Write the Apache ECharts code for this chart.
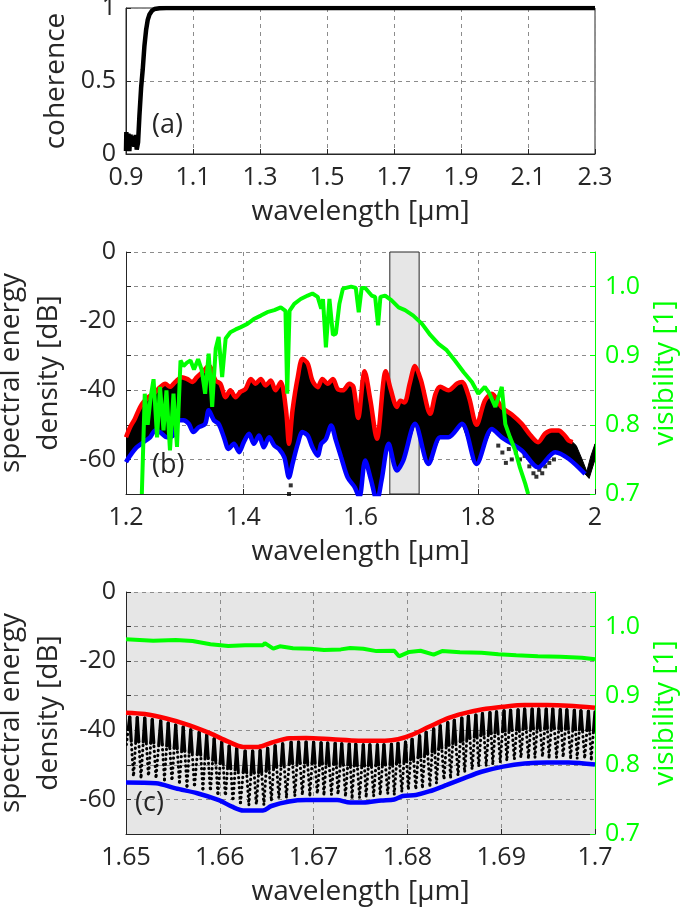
<!DOCTYPE html>
<html><head><meta charset="utf-8">
<script src="https://cdn.jsdelivr.net/npm/echarts@6/dist/echarts.min.js"></script>
<style>html,body{margin:0;padding:0;background:#fff}#c{width:685px;height:912px}</style>
</head><body><div id="c"></div>
<script>
// ---------- panel (a): coherence ----------
const cohX = [0.900,0.901,0.904,0.907,0.910,0.913,0.917,0.921,0.925,0.929,0.932,0.936,0.940,0.945,0.950,0.955,0.960,0.965,0.970,0.977,0.985,1.000,1.020,2.300];
const cohY = [0.02,0.15,0.03,0.14,0.02,0.13,0.10,0.12,0.05,0.13,0.03,0.08,0.26,0.45,0.58,0.74,0.85,0.92,0.955,0.98,0.993,0.998,1.0,1.0];

// ---------- panel (b): spectrum 1.2-2.0 um ----------
const redBX = [1.200,1.207,1.215,1.224,1.230,1.238,1.247,1.255,1.267,1.275,1.284,1.295,1.304,1.313,1.321,1.333,1.341,1.353,1.361,1.370,1.378,1.387,1.395,1.404,1.413,1.421,1.430,1.438,1.447,1.455,1.464,1.473,1.478,1.484,1.493,1.501,1.510,1.518,1.527,1.535,1.544,1.553,1.561,1.570,1.581,1.588,1.596,1.607,1.617,1.628,1.643,1.652,1.662,1.668,1.675,1.684,1.693,1.703,1.719,1.728,1.736,1.750,1.765,1.773,1.785,1.798,1.812,1.824,1.841,1.858,1.875,1.890,1.903,1.915,1.926,1.938,1.948,1.955,1.962];
const redBY = [-53.6,-50.7,-48.3,-44.9,-43.4,-42,-41,-39.6,-38.1,-39,-37.6,-36.2,-36.7,-37.6,-36.2,-34.3,-32.8,-37.2,-38.1,-42,-40,-42,-40.5,-39.6,-36.7,-38.1,-36.7,-38.6,-37.2,-40,-37.6,-45.8,-55.5,-45.8,-36.2,-30.9,-32.3,-37.2,-39.1,-36.7,-38.1,-36.7,-39.6,-40,-38.1,-39,-48,-34.5,-43,-54,-34.5,-40,-44.8,-43,-43.5,-38,-33,-37,-46.8,-41,-39,-40,-38,-37.6,-42,-50,-43,-41,-44.9,-47,-49.7,-53,-55,-52.5,-51.6,-51.6,-53,-54.5,-55];
const blueBX = [1.200,1.207,1.218,1.230,1.241,1.250,1.258,1.270,1.281,1.290,1.298,1.307,1.315,1.324,1.335,1.341,1.350,1.358,1.367,1.375,1.384,1.393,1.401,1.410,1.418,1.427,1.435,1.444,1.453,1.461,1.470,1.478,1.484,1.493,1.501,1.510,1.518,1.527,1.533,1.541,1.550,1.558,1.567,1.578,1.590,1.598,1.608,1.618,1.628,1.636,1.648,1.662,1.673,1.693,1.716,1.736,1.750,1.773,1.798,1.824,1.841,1.875,1.903,1.932,1.955,1.983];
const blueBY = [-60.8,-58.9,-56.5,-55,-53.6,-51.6,-52.1,-53.6,-53,-48.7,-48.7,-49.7,-52.1,-50.7,-49.7,-45.8,-48.7,-49.7,-53.6,-57,-55.5,-57.9,-55,-52.6,-55.5,-53.1,-56.5,-53.6,-56,-57,-59.4,-65.2,-61.3,-55.5,-52.1,-53.1,-56.5,-58.9,-55.5,-54.1,-50.2,-54.5,-59.4,-65.2,-68,-71,-60.3,-66,-72,-66,-55.5,-63.2,-60.3,-49.7,-61.3,-53.6,-53.6,-49.7,-61.3,-51.2,-53.6,-57.4,-62.3,-57.9,-59.8,-64.2];
const bandTailTopX = [1.968,1.978,1.986,1.993,2.000];
const bandTailTopY = [-56,-60,-63.5,-59,-55.5];
const bandTailBotX = [1.990,2.000];
const bandTailBotY = [-65.5,-60];
const dotsBX = [1.478,1.481,1.835,1.842,1.848,1.853,1.858,1.865,1.872,1.880,1.888,1.895,1.900,1.905,1.910,1.915,1.922,1.930];
const dotsBY = [-70,-67.5,-56,-58,-61,-57,-60,-58,-60,-59,-62,-64,-65,-63,-64,-62,-61,-60];
const greenBX = [1.227,1.232,1.237,1.242,1.247,1.253,1.258,1.264,1.269,1.275,1.281,1.287,1.293,1.298,1.304,1.310,1.316,1.323,1.329,1.335,1.341,1.347,1.353,1.358,1.364,1.370,1.378,1.387,1.395,1.407,1.418,1.430,1.441,1.453,1.464,1.472,1.475,1.479,1.487,1.498,1.510,1.518,1.527,1.533,1.536,1.541,1.547,1.553,1.558,1.564,1.570,1.584,1.592,1.597,1.602,1.608,1.619,1.625,1.630,1.634,1.642,1.653,1.665,1.676,1.690,1.705,1.719,1.733,1.747,1.761,1.776,1.790,1.801,1.812,1.820,1.830,1.841,1.847,1.855,1.864,1.872,1.881,1.886];
const greenBY = [0.70,0.845,0.80,0.84,0.866,0.782,0.855,0.792,0.85,0.763,0.845,0.768,0.893,0.885,0.89,0.893,0.88,0.895,0.88,0.845,0.903,0.826,0.91,0.927,0.869,0.925,0.934,0.938,0.941,0.946,0.953,0.958,0.963,0.966,0.970,0.965,0.845,0.965,0.975,0.982,0.987,0.990,0.985,0.968,0.982,0.912,0.982,0.930,0.932,0.975,0.997,1.000,0.998,0.963,0.998,0.998,0.987,0.985,0.944,0.985,0.987,0.980,0.970,0.966,0.958,0.946,0.930,0.917,0.908,0.893,0.876,0.862,0.845,0.855,0.845,0.826,0.855,0.801,0.782,0.763,0.738,0.715,0.70];

// ---------- panel (c): zoom 1.65-1.70 um ----------
const redCX = [1.650,1.652,1.6543,1.6567,1.659,1.6609,1.6625,1.6641,1.6655,1.6674,1.6692,1.672,1.6748,1.6776,1.679,1.6804,1.6823,1.6842,1.686,1.6879,1.6902,1.6925,1.6949,1.6972,1.700];
const redCY = [-34.9,-35.3,-36.6,-38.5,-40.9,-43.3,-44.8,-44.8,-43.6,-42.3,-42.2,-42.6,-43.0,-43.0,-42.6,-41.4,-39,-36.6,-35.1,-34,-33.2,-32.7,-32.7,-32.9,-33.5];
const blueCX = [1.650,1.6532,1.6553,1.6576,1.6599,1.6613,1.6625,1.6646,1.6655,1.6674,1.6692,1.6725,1.6739,1.6753,1.6772,1.6786,1.6795,1.6809,1.6823,1.6842,1.686,1.6879,1.6902,1.6925,1.6949,1.6972,1.700];
const blueCY = [-55.1,-55.3,-56.8,-58.2,-60.2,-62.1,-63.2,-63.2,-61.9,-60.6,-60.2,-60.2,-60.9,-60.9,-60.3,-60,-59,-58.7,-57.7,-55.8,-53.9,-52,-50.5,-49.6,-49.3,-49.3,-49.9];
const greenCX = [1.650,1.6529,1.6553,1.6571,1.659,1.6609,1.6627,1.6646,1.6648,1.6657,1.6664,1.6678,1.6697,1.6711,1.6729,1.6739,1.6753,1.6767,1.6786,1.6791,1.6802,1.6814,1.6828,1.6837,1.6856,1.6879,1.6897,1.6916,1.6939,1.6963,1.6986,1.700];
const greenCY = [0.9817,0.9794,0.9806,0.979,0.9745,0.972,0.973,0.973,0.976,0.968,0.9715,0.9687,0.968,0.966,0.967,0.969,0.968,0.9645,0.965,0.957,0.9633,0.965,0.9595,0.9645,0.963,0.962,0.960,0.9586,0.957,0.9562,0.955,0.9528];
const fringeX = [1.6500,1.6504,1.6508,1.6512,1.6516,1.6520,1.6524,1.6528,1.6532,1.6537,1.6541,1.6545,1.6549,1.6553,1.6557,1.6561,1.6565,1.6569,1.6573,1.6578,1.6582,1.6586,1.6590,1.6594,1.6598,1.6602,1.6606,1.6610,1.6614,1.6618,1.6622,1.6627,1.6631,1.6635,1.6639,1.6643,1.6647,1.6651,1.6655,1.6659,1.6663,1.6667,1.6671,1.6676,1.6680,1.6684,1.6688,1.6692,1.6696,1.6700,1.6704,1.6708,1.6711,1.6715,1.6719,1.6723,1.6726,1.6730,1.6734,1.6738,1.6741,1.6745,1.6749,1.6753,1.6756,1.6760,1.6764,1.6768,1.6771,1.6775,1.6779,1.6783,1.6786,1.6790,1.6794,1.6798,1.6801,1.6805,1.6809,1.6813,1.6816,1.6820,1.6824,1.6828,1.6831,1.6835,1.6839,1.6843,1.6846,1.6850,1.6854,1.6858,1.6861,1.6865,1.6869,1.6873,1.6876,1.6880,1.6884,1.6888,1.6891,1.6895,1.6899,1.6903,1.6906,1.6910,1.6914,1.6918,1.6921,1.6925,1.6929,1.6933,1.6936,1.6940,1.6944,1.6948,1.6951,1.6955,1.6959,1.6963,1.6966,1.6970,1.6974,1.6978,1.6981,1.6985,1.6989,1.6993,1.6996,1.7000];
const fringeY = [-45.0,-36.2,-53.6,-36.3,-53.7,-36.5,-53.7,-36.9,-53.8,-37.3,-54.4,-37.9,-55.0,-38.5,-55.5,-39.1,-56.2,-39.9,-56.5,-40.6,-57.1,-41.5,-57.9,-42.5,-58.6,-43.5,-59.5,-44.6,-60.7,-45.3,-61.4,-46.0,-61.7,-46.0,-61.7,-45.9,-61.6,-45.2,-60.4,-44.5,-59.8,-43.9,-59.3,-43.5,-58.9,-43.4,-58.7,-43.4,-58.7,-43.5,-58.7,-43.6,-58.7,-43.7,-58.7,-43.8,-58.8,-43.9,-59.1,-44.0,-59.4,-44.1,-59.4,-44.2,-59.3,-44.2,-59.1,-44.2,-58.8,-44.2,-58.6,-44.1,-58.5,-43.8,-57.6,-43.4,-57.4,-42.6,-57.2,-41.6,-56.8,-40.6,-56.1,-39.6,-55.5,-38.7,-54.6,-37.8,-53.9,-37.1,-53.3,-36.5,-52.5,-36.0,-51.6,-35.6,-50.8,-35.2,-50.1,-34.9,-49.8,-34.7,-49.2,-34.4,-48.9,-34.2,-48.6,-34.1,-48.3,-33.9,-48.0,-33.9,-47.9,-33.9,-47.8,-33.9,-47.8,-33.9,-47.8,-34.0,-47.8,-34.1,-47.9,-34.2,-48.0,-34.4,-48.2,-34.5,-48.3,-34.7];

const zip = (xs, ys) => xs.map((x, i) => [x, ys[i]]);

const FONT = '"Open Sans", Lato, sans-serif';
const TXT = '#262626';
const GREEN = '#00ff00';
const TICK = 25, TITLE = 28;
const dashed = {show: true, lineStyle: {color: '#8c8c8c', type: [4, 4], width: 1}};

function xAx(gi, min, max, interval, fmt) {
  return {
    type: 'value', gridIndex: gi, min, max, interval,
    name: 'wavelength [µm]', nameLocation: 'middle', nameGap: 44,
    nameTextStyle: {fontFamily: FONT, fontSize: TITLE, color: TXT},
    axisLine: {show: true, onZero: false, lineStyle: {color: '#262626', width: 1}},
    axisTick: {show: true, inside: true, length: 5, lineStyle: {color: '#262626'}},
    axisLabel: {fontFamily: FONT, fontSize: TICK, color: TXT, margin: 11, formatter: fmt},
    splitLine: dashed
  };
}
function dbAx(gi) {
  return {
    type: 'value', gridIndex: gi, min: -70, max: 0, interval: 10,
    name: 'spectral energy\ndensity [dB]', nameLocation: 'middle', nameGap: 50, nameRotate: 90,
    nameTextStyle: {fontFamily: FONT, fontSize: TITLE, color: TXT, lineHeight: 38},
    axisLine: {show: true, onZero: false, lineStyle: {color: '#262626', width: 1}},
    axisTick: {show: true, inside: true, length: 5, lineStyle: {color: '#262626'}},
    axisLabel: {fontFamily: FONT, fontSize: TICK, color: TXT, margin: 10,
      formatter: v => (Math.round(v) % 20 === 0 ? String(Math.round(v)) : '')},
    splitLine: dashed
  };
}
function visAx(gi) {
  return {
    type: 'value', gridIndex: gi, position: 'right', min: 0.7, max: 1.05, interval: 0.1,
    name: 'visibility [1]', nameLocation: 'middle', nameGap: 48, nameRotate: 90,
    nameTextStyle: {fontFamily: FONT, fontSize: TITLE, color: GREEN},
    axisLine: {show: true, onZero: false, lineStyle: {color: GREEN, width: 1}},
    axisTick: {show: true, inside: true, length: 5, lineStyle: {color: GREEN}},
    axisLabel: {fontFamily: FONT, fontSize: TICK, color: GREEN, margin: 10,
      formatter: v => (Math.abs(v * 10 - Math.round(v * 10)) < 1e-6 ? v.toFixed(1) : '')},
    splitLine: {show: false}
  };
}
const lineS = (xi, yi, data, color, width, z, extra) => Object.assign({
  type: 'line', xAxisIndex: xi, yAxisIndex: yi, data, symbol: 'none', z,
  lineStyle: {color, width}, itemStyle: {color}, clip: true, animation: false
}, extra || {});

function bandRender(params, api) {
  const pts = [];
  const topX = redBX.concat(bandTailTopX), topY = redBY.concat(bandTailTopY);
  const botX = blueBX.concat(bandTailBotX), botY = blueBY.concat(bandTailBotY);
  for (let i = 0; i < topX.length; i++) pts.push(api.coord([topX[i], topY[i]]));
  for (let i = botX.length - 1; i >= 0; i--) pts.push(api.coord([botX[i], botY[i]]));
  const cs = params.coordSys;
  return {
    type: 'polygon', shape: {points: pts},
    style: {fill: '#000', stroke: '#000', lineWidth: 1},
    clipPath: {type: 'rect', shape: {x: cs.x, y: cs.y, width: cs.width, height: cs.height}}
  };
}
// each fringe leg: solid near the peak, dotted toward the trough
function fringeRender(params, api) {
  const i = params.dataIndex;
  if (i >= fringeX.length - 1) return null;
  const a = api.coord([fringeX[i], fringeY[i]]);
  const b = api.coord([fringeX[i + 1], fringeY[i + 1]]);
  const top = a[1] < b[1] ? a : b, bot = a[1] < b[1] ? b : a;
  const f = 0.4;
  const mid = [top[0] + (bot[0] - top[0]) * f, top[1] + (bot[1] - top[1]) * f];
  return {type: 'group', children: [
    {type: 'line', shape: {x1: top[0], y1: top[1], x2: mid[0], y2: mid[1]}, style: {stroke: '#000', lineWidth: 3.2, lineCap: 'round'}},
    {type: 'line', shape: {x1: mid[0], y1: mid[1], x2: bot[0], y2: bot[1]},
      style: {stroke: '#000', lineWidth: 3, lineCap: 'round', lineDash: [0.4, 4.6], lineDashOffset: (i % 3) * 1.7}}
  ]};
}

const gridBase = {left: 126, right: 90, containLabel: false, outerBoundsMode: 'none'};
const chart = echarts.init(document.getElementById('c'), null, {renderer: 'canvas'});
chart.setOption({
  animation: false,
  backgroundColor: '#fff',
  textStyle: {fontFamily: FONT},
  grid: [
    Object.assign({top: 8, height: 146, show: true, borderColor: '#262626', borderWidth: 1, backgroundColor: 'transparent'}, gridBase),
    Object.assign({top: 252, height: 242}, gridBase),
    Object.assign({top: 592, height: 242, show: true, backgroundColor: '#e6e6e6', borderWidth: 0}, gridBase)
  ],
  xAxis: [
    xAx(0, 0.9, 2.3, 0.2, v => String(Math.round(v * 10) / 10)),
    xAx(1, 1.2, 2.0, 0.2, v => String(Math.round(v * 10) / 10)),
    xAx(2, 1.65, 1.70, 0.01, v => String(Math.round(v * 100) / 100))
  ],
  yAxis: [
    {
      type: 'value', gridIndex: 0, min: 0, max: 1, interval: 0.5,
      name: 'coherence', nameLocation: 'middle', nameGap: 50, nameRotate: 90,
      nameTextStyle: {fontFamily: FONT, fontSize: TITLE, color: TXT},
      axisLine: {show: true, onZero: false, lineStyle: {color: '#262626', width: 1}},
      axisTick: {show: true, inside: true, length: 5, lineStyle: {color: '#262626'}},
      axisLabel: {fontFamily: FONT, fontSize: TICK, color: TXT, margin: 10, formatter: v => String(v)},
      splitLine: dashed
    },
    dbAx(1), visAx(1), dbAx(2), visAx(2)
  ],
  graphic: [
    {type: 'text', left: 152, top: 112, style: {text: '(a)', fontFamily: FONT, fontSize: 27, fill: TXT}, z: 100},
    {type: 'text', left: 152, top: 452, style: {text: '(b)', fontFamily: FONT, fontSize: 27, fill: TXT}, z: 100},
    {type: 'text', left: 135, top: 790, style: {text: '(c)', fontFamily: FONT, fontSize: 27, fill: TXT}, z: 100}
  ],
  series: [
    lineS(0, 0, zip(cohX, cohY), '#000', 4.5, 3),
    // (b)
    {type: 'line', xAxisIndex: 1, yAxisIndex: 1, data: [], z: 1, silent: true,
      markArea: {silent: true, itemStyle: {color: '#e6e6e6', borderColor: '#262626', borderWidth: 1},
        data: [[{xAxis: 1.65, yAxis: -70}, {xAxis: 1.70, yAxis: 0}]]}},
    {type: 'custom', xAxisIndex: 1, yAxisIndex: 1, data: [[1.6, -50]], renderItem: bandRender, z: 2, silent: true},
    {type: 'scatter', xAxisIndex: 1, yAxisIndex: 1, data: zip(dotsBX, dotsBY), symbol: 'rect', symbolSize: 4,
      itemStyle: {color: '#000'}, z: 2, silent: true},
    lineS(1, 1, zip(redBX, redBY), '#ff0000', 4.5, 3, {smooth: 0.3}),
    lineS(1, 1, zip(blueBX, blueBY), '#0000ff', 4.5, 3, {smooth: 0.3}),
    lineS(1, 2, zip(greenBX, greenBY), GREEN, 4, 4),
    // (c)
    {type: 'custom', xAxisIndex: 2, yAxisIndex: 3, data: zip(fringeX, fringeY), encode: {x: 0, y: 1},
      renderItem: fringeRender, z: 2, silent: true, clip: true},
    lineS(2, 3, zip(redCX, redCY), '#ff0000', 4.5, 3, {smooth: 0.3}),
    lineS(2, 3, zip(blueCX, blueCY), '#0000ff', 4.5, 3, {smooth: 0.3}),
    lineS(2, 4, zip(greenCX, greenCY), GREEN, 4, 4)
  ]
});
</script>
</body></html>
